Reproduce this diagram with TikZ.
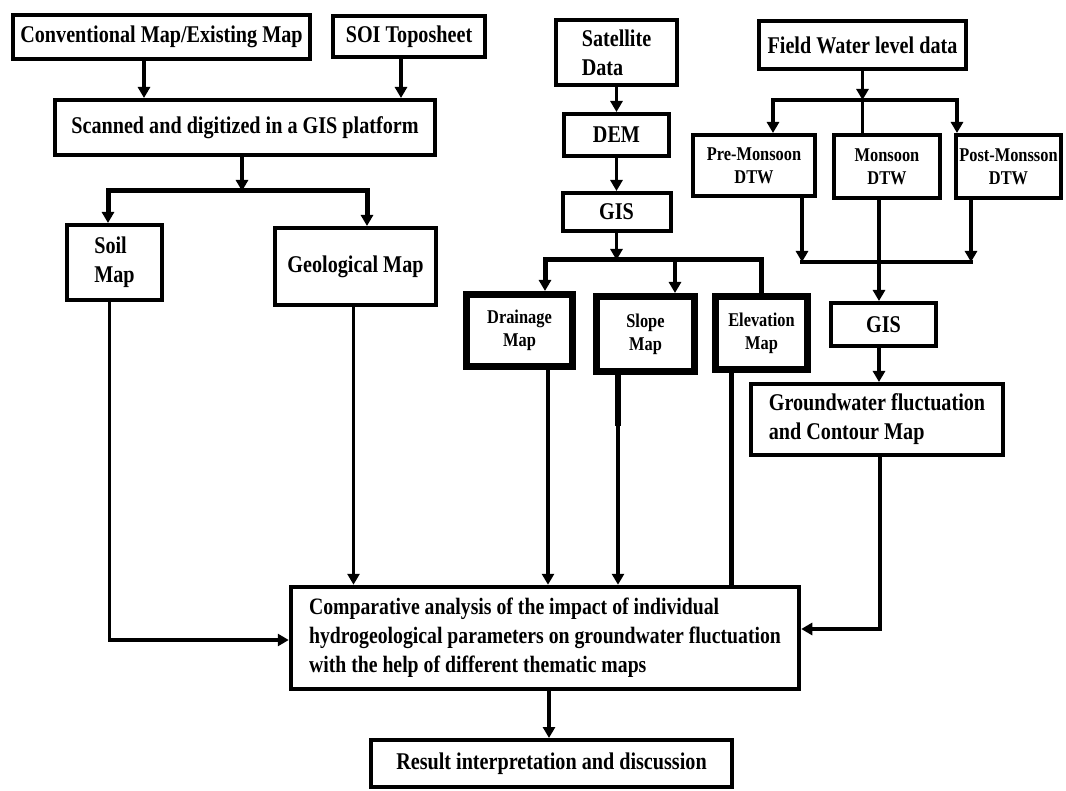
\documentclass[tikz,border=0pt]{standalone}
\usepackage{fontspec}
\newfontfamily\dfont{Liberation Serif}[FakeStretch=0.84]
\usetikzlibrary{arrows.meta,calc}
\begin{document}
\begin{tikzpicture}[x=1pt,y=-1pt,
  >={Triangle[width=12pt,length=11pt]},
  box/.style={draw, line width=4pt, inner sep=0pt, align=center,
    font=\dfont\bfseries\fontsize{24}{29}\selectfont},
  sbox/.style={box, font=\dfont\bfseries\fontsize{19.5}{23}\selectfont},
  tbox/.style={sbox, line width=7pt},
  ln/.style={line width=3.5pt},
  bar/.style={line width=5pt},
]
\useasboundingbox[fill=white] (0,0) rectangle (1066,791);

% left column
\node[box, minimum width=297pt, minimum height=44pt] (conv) at (161.5,37) {Conventional Map/Existing Map};
\node[box, minimum width=152pt, minimum height=41pt] (soi) at (409,36.5) {SOI Toposheet};
\node[box, minimum width=380pt, minimum height=55pt] (scan) at (245,127.5) {Scanned and digitized in a GIS platform};
\node[box, align=left, minimum width=95pt, minimum height=75pt] (soil) at (114.5,262.5) {Soil\\Map};
\node[box, minimum width=161pt, minimum height=77pt] (geo) at (355.5,266.5) {Geological Map};

% middle column
\node[box, align=left, minimum width=121pt, minimum height=65pt] (sat) at (616.5,52.5) {Satellite\\Data};
\node[box, minimum width=105pt, minimum height=42pt] (dem) at (616.5,135) {DEM};
\node[box, minimum width=108pt, minimum height=38pt] (gis1) at (616.5,212) {GIS};
\node[tbox, minimum width=106pt, minimum height=72pt] (drain) at (519.5,330.5) {Drainage\\Map};
\node[tbox, minimum width=98pt, minimum height=75pt] (slope) at (645.5,334) {Slope\\Map};
\node[tbox, minimum width=92pt, minimum height=73pt] (elev) at (761.5,333) {Elevation\\Map};

% right column
\node[box, minimum width=207pt, minimum height=48pt] (field) at (862.5,45) {Field Water level data};
\node[sbox, minimum width=122pt, minimum height=61pt] (pre) at (754,165.5) {Pre-Monsoon\\DTW};
\node[sbox, minimum width=106pt, minimum height=63pt] (mon) at (887,166.5) {Monsoon\\DTW};
\node[sbox, minimum width=105pt, minimum height=63pt] (post) at (1008.5,166.5) {Post-Monsson\\DTW};
\node[box, minimum width=105pt, minimum height=43pt] (gis2) at (883.5,324.5) {GIS};
\node[box, align=left, minimum width=252pt, minimum height=71pt] (gw) at (877,419.5) {Groundwater fluctuation\\and Contour Map};

% bottom
\node[box, line width=4.5pt, align=left, minimum width=508pt, minimum height=102pt,
  font=\dfont\bfseries\fontsize{23.5}{29}\selectfont] (comp) at (545,638)
  {Comparative analysis of the impact of individual\\hydrogeological parameters on groundwater fluctuation\\with the help of different thematic maps};
\node[box, minimum width=361pt, minimum height=47pt] (result) at (551.5,763.5) {Result interpretation and discussion};

% coordinates of the branching bars
\coordinate (b1l) at (108,191);
\coordinate (b1r) at (367,191);
\coordinate (b2l) at (545,260);
\coordinate (b2m) at (675,260);
\coordinate (b2r) at (761,260);
\coordinate (b3l) at (773,100);
\coordinate (b3r) at (957,100);
\coordinate (b4l) at (802,262);
\coordinate (b4r) at (971,262);

% left connectors
\draw[ln,->] ([xshift=-17.5pt]conv.south) -- ([xshift=-17.5pt]conv.south |- scan.north);
\draw[ln,->] ([xshift=-8pt]soi.south) -- ([xshift=-8pt]soi.south |- scan.north);
\draw[ln,->] ([xshift=-3pt]scan.south) -- ([xshift=-3pt]scan.south |- b1l);
\draw[bar,<->] (soil.north -| b1l) -- (b1l) -- (b1r) -- (geo.north -| b1r);
\draw[ln,->] ([xshift=-5pt]soil.south) |- ([yshift=-2pt]comp.west);
\draw[ln,->] ([xshift=-2pt]geo.south) -- ([xshift=-2pt]geo.south |- comp.north);

% middle connectors
\draw[ln,->] (sat.south) -- (dem.north);
\draw[ln,->] (dem.south) -- (gis1.north);
\draw[ln,->] (gis1.south) -- (gis1.south |- b2l);
\draw[bar,->] (elev.north -| b2r) -- (b2r) -- (b2l) -- (drain.north -| b2l);
\draw[ln,->] (b2m) -- (slope.north -| b2m);
\draw[ln,->] ([xshift=28.5pt]drain.south) -- ([xshift=28.5pt]drain.south |- comp.north);
\draw[ln,->] ([xshift=-27.5pt]slope.south) -- ([xshift=-27.5pt]slope.south |- comp.north);
\draw[line width=6pt] ([xshift=-27.5pt,yshift=3.5pt]slope.south) -- ++(0,55);
\draw[bar] ([xshift=-30.5pt]elev.south) -- ([xshift=-30.5pt]elev.south |- comp.north);

% right connectors
\draw[ln,->] (field.south) -- (field.south |- b3l);
\draw[ln,<->] (pre.north -| b3l) -- (b3l) -- (b3r) -- (post.north -| b3r);
\draw[ln] (field.south |- b3l) -- (field.south |- mon.north);
\draw[ln,->] ([xshift=48pt]pre.south) -- ([xshift=48pt]pre.south |- b4l);
\draw[ln,->] ([xshift=-37.5pt]post.south) -- ([xshift=-37.5pt]post.south |- b4r);
\draw[ln,line cap=rect] (b4l) -- (b4r);
\draw[ln,->] ([xshift=-8pt]mon.south) -- ([xshift=-8pt]mon.south |- gis2.north);
\draw[ln,->] ([xshift=-4.5pt]gis2.south) -- ([xshift=-4.5pt]gis2.south |- gw.north);
\draw[ln,->] ([xshift=3pt]gw.south) |- ([yshift=9pt]comp.east);

% bottom connector
\draw[ln,->] ([xshift=4pt]comp.south) -- ([xshift=4pt]comp.south |- result.north);
\end{tikzpicture}
\end{document}
